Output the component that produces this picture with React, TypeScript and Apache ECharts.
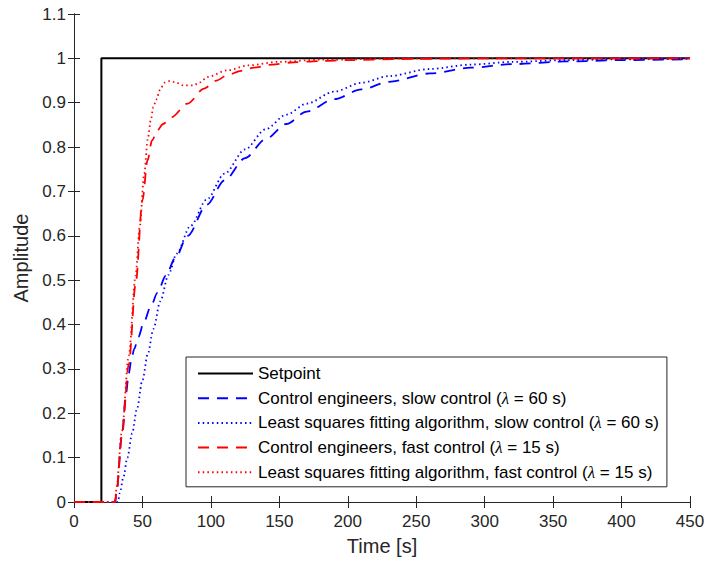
import React, { useEffect, useRef } from "react";
import * as echarts from "echarts";

const xTicks = [0, 450, 50];
const yTicks = [0, 1.1, 0.1];

const setpointT = [0, 20, 20, 450];
const setpointY = [0, 0, 1, 1];

const ceSlowT = [0, 30, 31, 35, 38, 40, 42, 44, 47, 51, 56, 61, 67, 74, 83, 97, 110, 125, 140, 155, 170, 190, 210, 230, 260, 290, 320, 360, 400, 450];
const ceSlowY = [0, 0, 0.02, 0.15, 0.245, 0.29, 0.322, 0.345, 0.372, 0.405, 0.44, 0.472, 0.51, 0.55, 0.6, 0.67, 0.725, 0.775, 0.818, 0.852, 0.88, 0.908, 0.93, 0.947, 0.966, 0.979, 0.987, 0.993, 0.996, 0.998];

const lsSlowT = [0, 32, 33.5, 36, 39, 42.5, 46, 50, 54, 58, 63, 69, 75, 85, 97, 110, 125, 140, 155, 170, 190, 210, 230, 260, 290, 320, 360, 400, 450];
const lsSlowY = [0, 0, 0.02, 0.055, 0.1, 0.155, 0.21, 0.275, 0.335, 0.39, 0.452, 0.512, 0.56, 0.622, 0.682, 0.74, 0.795, 0.84, 0.873, 0.898, 0.925, 0.945, 0.96, 0.976, 0.986, 0.992, 0.996, 0.998, 0.999];

const ceFastT = [0, 30, 31, 35, 40, 45, 50, 53.7, 57, 61, 65, 71, 83, 95, 104, 112, 122, 131.5, 145, 160, 180, 200, 250, 300, 450];
const ceFastY = [0, 0, 0.02, 0.15, 0.31, 0.49, 0.68, 0.77, 0.815, 0.838, 0.852, 0.867, 0.898, 0.932, 0.95, 0.962, 0.972, 0.979, 0.986, 0.991, 0.994, 0.996, 0.999, 1.0, 1.0];

const lsFastT = [0, 30, 31, 35, 40, 45, 48, 51.3, 54, 56, 58, 60, 63, 66, 70, 74, 80, 87, 92, 97.5, 112, 127, 149, 180, 250, 450];
const lsFastY = [0, 0, 0.03, 0.16, 0.33, 0.51, 0.62, 0.74, 0.82, 0.86, 0.89, 0.907, 0.93, 0.945, 0.949, 0.946, 0.939, 0.939, 0.946, 0.958, 0.973, 0.984, 0.992, 0.997, 1.0, 1.0];

const seriesNames = [
  "Setpoint",
  "Control engineers, slow control (λ = 60 s)",
  "Least squares fitting algorithm, slow control (λ = 60 s)",
  "Control engineers, fast control (λ = 15 s)",
  "Least squares fitting algorithm, fast control (λ = 15 s)",
];

const zip = (t: number[], y: number[]) => t.map((v, i) => [v, y[i]]);

const FONT = "Liberation Sans, Arial, Helvetica, sans-serif";
const AXIS_COLOR = "#262626";

export default function App() {
  const ref = useRef<HTMLDivElement>(null);
  useEffect(() => {
    if (!ref.current) return;
    const chart = echarts.init(ref.current, undefined, { renderer: "svg" });
    const dashed = [11, 8];
    const dotted = [1.5, 3.2];
    const xBase = {
      type: "value" as const,
      min: xTicks[0],
      max: xTicks[1],
      interval: xTicks[2],
      splitLine: { show: false },
      axisLine: { show: true, lineStyle: { color: AXIS_COLOR, width: 1 } },
      axisTick: { show: true, inside: true, length: 6, lineStyle: { color: AXIS_COLOR } },
    };
    const yBase = {
      type: "value" as const,
      min: yTicks[0],
      max: yTicks[1],
      interval: yTicks[2],
      splitLine: { show: false },
      axisLine: { show: true, lineStyle: { color: AXIS_COLOR, width: 1 } },
      axisTick: { show: true, inside: true, length: 6, lineStyle: { color: AXIS_COLOR } },
    };
    const mk = (i: number, t: number[], y: number[], color: string, type: any, width: number, z: number, smooth: number) => ({
      name: seriesNames[i],
      type: "line",
      data: zip(t, y),
      smooth,
      smoothMonotone: "x",
      showSymbol: false,
      symbol: "none",
      lineStyle: { color, width, type },
      itemStyle: { color },
      z,
    });
    chart.setOption({
      animation: false,
      backgroundColor: "#ffffff",
      textStyle: { fontFamily: FONT },
      grid: { left: 74, right: 18, top: 14, bottom: 63, containLabel: false },
      xAxis: [
        {
          ...xBase,
          position: "bottom",
          name: "Time [s]",
          nameLocation: "middle",
          nameGap: 34,
          nameTextStyle: { fontSize: 20, color: AXIS_COLOR, fontFamily: FONT },
          axisLabel: { show: true, fontSize: 17, color: AXIS_COLOR, margin: 11, fontFamily: FONT },
        },
        { ...xBase, position: "top", axisLabel: { show: false } },
      ],
      yAxis: [
        {
          ...yBase,
          position: "left",
          name: "Amplitude",
          nameLocation: "middle",
          nameGap: 41,
          nameTextStyle: { fontSize: 20, color: AXIS_COLOR, fontFamily: FONT },
          axisLabel: {
            show: true,
            fontSize: 17,
            color: AXIS_COLOR,
            margin: 8,
            fontFamily: FONT,
            formatter: (v: number) => String(Math.round(v * 10) / 10),
          },
        },
        { ...yBase, position: "right", axisLabel: { show: false } },
      ],
      legend: {
        show: true,
        orient: "vertical",
        left: 186,
        top: 357,
        data: seriesNames,
        backgroundColor: "#ffffff",
        borderColor: "#262626",
        borderWidth: 1,
        borderRadius: 0,
        padding: [8, 8, 6, 11],
        itemWidth: 55,
        itemHeight: 14,
        itemGap: 7.7,
        selectedMode: false,
        itemStyle: { opacity: 0 },
        formatter: (name: string) => name.replace("λ", "{l|λ}"),
        textStyle: {
          fontSize: 17,
          color: "#000000",
          fontFamily: FONT,
          lineHeight: 16,
          rich: {
            l: { fontSize: 17, fontStyle: "italic", fontFamily: "Liberation Serif, serif", color: "#000000", lineHeight: 16 },
          },
        },
      },
      series: [
        mk(0, setpointT, setpointY, "#000000", "solid", 2, 2, 0),
        mk(1, ceSlowT, ceSlowY, "#0000ff", dashed, 1.8, 3, 0.3),
        mk(2, lsSlowT, lsSlowY, "#0000ff", dotted, 1.8, 3, 0.3),
        mk(3, ceFastT, ceFastY, "#ff0000", dashed, 1.8, 4, 0.3),
        mk(4, lsFastT, lsFastY, "#ff0000", dotted, 1.8, 4, 0.3),
      ],
    });
    return () => chart.dispose();
  }, []);
  return <div ref={ref} style={{ width: 708, height: 565, position: "absolute", left: 0, top: 0 }} />;
}
